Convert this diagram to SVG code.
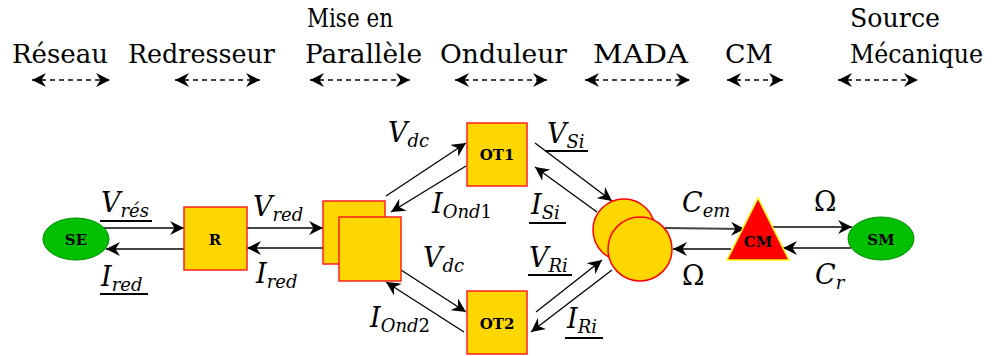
<svg xmlns="http://www.w3.org/2000/svg" width="1006" height="356" viewBox="0 0 1006 356">
<style>
.hd{font-size:26px;fill:#000}
.m{font-style:italic;font-size:27px;fill:#000}
.s{font-size:18px}
.up{font-style:normal;font-size:27px}
.nl{font-weight:bold;font-size:15px;text-anchor:middle;fill:#000}
.ell{fill:#00c000;stroke:#008a00;stroke-width:1}
.box{fill:#ffd700;stroke:#ff2020;stroke-width:1.5}
.cir{fill:#ffd700;stroke:#ff0000;stroke-width:1.5}
.tri{fill:#ff0000;stroke:#ffff00;stroke-width:1.5}
.dash{stroke:#000;stroke-width:1.5;stroke-dasharray:5 4;fill:none;marker-start:url(#ah);marker-end:url(#ah)}
.h{stroke:#444;stroke-width:2;fill:none;marker-end:url(#ah)}
.d{stroke:#000;stroke-width:1.3;fill:none;marker-end:url(#ah)}
.ul{stroke:#000;stroke-width:2}
</style>
<defs>
<marker id="ah" markerUnits="userSpaceOnUse" markerWidth="16" markerHeight="14" refX="14" refY="7" orient="auto-start-reverse" viewBox="0 0 16 14">
<path d="M0,0 L14,7 L0,14 L4.5,7 Z" fill="#000"/>
</marker>
</defs>

<g id="header">
<text class="hd" font-family="DejaVu Serif" x="12" y="63" textLength="96" lengthAdjust="spacingAndGlyphs">Réseau</text>
<text class="hd" font-family="DejaVu Serif" x="128" y="63" textLength="147" lengthAdjust="spacingAndGlyphs">Redresseur</text>
<text class="hd" font-family="DejaVu Serif" x="307" y="27" textLength="86" lengthAdjust="spacingAndGlyphs">Mise en</text>
<text class="hd" font-family="DejaVu Serif" x="305" y="63" textLength="117" lengthAdjust="spacingAndGlyphs">Parallèle</text>
<text class="hd" font-family="DejaVu Serif" x="440" y="63" textLength="127" lengthAdjust="spacingAndGlyphs">Onduleur</text>
<text class="hd" font-family="DejaVu Serif" x="593" y="63" textLength="95" lengthAdjust="spacingAndGlyphs">MADA</text>
<text class="hd" font-family="DejaVu Serif" x="725" y="63" textLength="48" lengthAdjust="spacingAndGlyphs">CM</text>
<text class="hd" font-family="DejaVu Serif" x="850" y="27" textLength="90" lengthAdjust="spacingAndGlyphs">Source</text>
<text class="hd" font-family="DejaVu Serif" x="850" y="63" textLength="133" lengthAdjust="spacingAndGlyphs">Mécanique</text>
<line class="dash" x1="32" y1="80" x2="110" y2="80"/>
<line class="dash" x1="175" y1="80" x2="260" y2="80"/>
<line class="dash" x1="310" y1="80" x2="410" y2="80"/>
<line class="dash" x1="455" y1="80" x2="547" y2="80"/>
<line class="dash" x1="585" y1="80" x2="690" y2="80"/>
<line class="dash" x1="727" y1="80" x2="783" y2="80"/>
<line class="dash" x1="838" y1="80" x2="918" y2="80"/>
</g>

<g id="connectors">
<line class="h" x1="103" y1="228" x2="184" y2="228"/>
<line class="h" x1="184" y1="249" x2="106" y2="249"/>
<line class="h" x1="247" y1="228" x2="323" y2="228"/>
<line class="h" x1="323" y1="248" x2="247" y2="248"/>
<line class="d" x1="386" y1="196" x2="466" y2="143"/>
<line class="d" x1="466" y1="166" x2="391" y2="212"/>
<line class="d" x1="401" y1="270" x2="466" y2="312"/>
<line class="d" x1="464" y1="332" x2="386" y2="282"/>
<line class="d" x1="535" y1="143" x2="612" y2="201"/>
<line class="d" x1="597" y1="212" x2="535" y2="167"/>
<line class="d" x1="536" y1="312" x2="602" y2="260"/>
<line class="d" x1="612" y1="270" x2="531" y2="332"/>
<line class="h" x1="665" y1="228" x2="745" y2="229"/>
<line class="h" x1="731" y1="249" x2="673" y2="249"/>
<line class="h" x1="772" y1="227" x2="852" y2="227"/>
<line class="h" x1="851" y1="248" x2="783" y2="248"/>
</g>

<g id="SE">
<ellipse class="ell" cx="76" cy="239" rx="33" ry="21"/>
<text class="nl" font-family="DejaVu Serif" x="76" y="245">SE</text>
</g>
<g id="R">
<rect class="box" x="184" y="207" width="63" height="63"/>
<text class="nl" font-family="DejaVu Serif" x="215" y="245">R</text>
</g>
<g id="P">
<rect class="box" x="323" y="201" width="62" height="63"/>
<rect class="box" x="339" y="217" width="62" height="64"/>
</g>
<g id="OT1">
<rect class="box" x="467" y="123" width="60" height="63"/>
<text class="nl" font-family="DejaVu Serif" x="497" y="160">OT1</text>
</g>
<g id="OT2">
<rect class="box" x="467" y="291" width="60" height="63"/>
<text class="nl" font-family="DejaVu Serif" x="497" y="329">OT2</text>
</g>
<g id="MADA">
<circle class="cir" cx="624" cy="230" r="31"/>
<circle class="cir" cx="640" cy="249" r="32"/>
</g>
<g id="CM">
<polygon class="tri" points="758,198 789,260 727,260"/>
<text class="nl" font-family="DejaVu Serif" x="758" y="247">CM</text>
</g>
<g id="SM">
<ellipse class="ell" cx="881" cy="238.5" rx="33" ry="21.5"/>
<text class="nl" font-family="DejaVu Serif" x="881" y="245">SM</text>
</g>

<g id="labels">
<text class="m" font-family="DejaVu Serif" x="101" y="212">V<tspan class="s" dy="5">rés</tspan></text>
<line class="ul" x1="100" y1="221" x2="152" y2="221"/>
<text class="m" font-family="DejaVu Serif" x="101" y="286">I<tspan class="s" dy="5">red</tspan></text>
<line class="ul" x1="100" y1="294" x2="148" y2="294"/>
<text class="m" font-family="DejaVu Serif" x="253" y="216">V<tspan class="s" dy="5">red</tspan></text>
<text class="m" font-family="DejaVu Serif" x="256" y="283">I<tspan class="s" dy="5">red</tspan></text>
<text class="m" font-family="DejaVu Serif" x="388" y="142">V<tspan class="s" dy="5">dc</tspan></text>
<text class="m" font-family="DejaVu Serif" x="432" y="213">I<tspan class="s" dy="5">Ond<tspan font-style="normal">1</tspan></tspan></text>
<text class="m" font-family="DejaVu Serif" x="423" y="267">V<tspan class="s" dy="5">dc</tspan></text>
<text class="m" font-family="DejaVu Serif" x="370" y="327">I<tspan class="s" dy="5">Ond<tspan font-style="normal">2</tspan></tspan></text>
<text class="m" font-family="DejaVu Serif" x="547" y="143">V<tspan class="s" dy="5">Si</tspan></text>
<line class="ul" x1="545" y1="151" x2="588" y2="151"/>
<text class="m" font-family="DejaVu Serif" x="531" y="214">I<tspan class="s" dy="5">Si</tspan></text>
<line class="ul" x1="529" y1="223" x2="566" y2="223"/>
<text class="m" font-family="DejaVu Serif" x="529" y="267">V<tspan class="s" dy="5">Ri</tspan></text>
<line class="ul" x1="528" y1="275" x2="572" y2="275"/>
<text class="m" font-family="DejaVu Serif" x="567" y="328">I<tspan class="s" dy="5">Ri</tspan></text>
<line class="ul" x1="565" y1="338" x2="603" y2="338"/>
<text class="m" font-family="DejaVu Serif" x="682" y="212">C<tspan class="s" dy="5">em</tspan></text>
<text class="up" font-family="DejaVu Serif" x="682" y="285">Ω</text>
<text class="up" font-family="DejaVu Serif" x="814" y="211">Ω</text>
<text class="m" font-family="DejaVu Serif" x="815" y="284">C<tspan class="s" dy="5">r</tspan></text>
</g>
</svg>
